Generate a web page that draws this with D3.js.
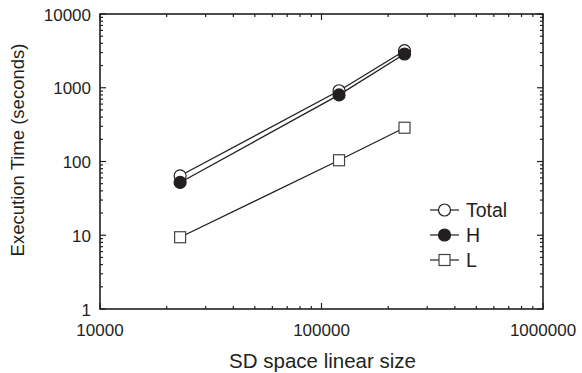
<!DOCTYPE html>
<html>
<head>
<meta charset="utf-8">
<style>
    body { margin: 0; background: #fff; }
    svg { font-family: 'Liberation Sans', Arial, sans-serif; }
    .tick-label { font-size: 17px; fill: #231f20; }
    .axis-title { fill: #231f20; }
    .legend text { font-size: 19.5px; fill: #231f20; }
</style>
</head>
<body>
<svg width="582" height="373"></svg>
<script src="https://d3js.org/d3.v7.min.js"></script>
<script>
    // values
    let sizes = [23000, 120000, 237000]
    let total = [64, 910, 3180]
    let hPart = [52, 800, 2870]
    let lPart = [9.4, 104, 287]
    let seriesNames = ["Total", "H", "L"]
    let xTicks = [10000, 100000, 1000000]
    let yTicks = [1, 10, 100, 1000, 10000]

    let ink = "#231f20"
    let margin = { top: 14, right: 39, bottom: 64, left: 100 }
    let width = 582, height = 373

    let svg = d3.select("svg")

    let x = d3.scaleLog()
        .domain([10000, 1000000])
        .range([margin.left, width - margin.right])

    let y = d3.scaleLog()
        .domain([1, 10000])
        .range([height - margin.bottom, margin.top])

    let x0 = x.range()[0], x1 = x.range()[1]
    let y0 = y.range()[0], y1 = y.range()[1]

    // minor ticks: 2..9 in every decade
    function minors(domain) {
        let out = []
        for (let d = domain[0]; d < domain[1]; d *= 10) {
            for (let k = 2; k <= 9; k++) out.push(d * k)
        }
        return out
    }

    let tickG = svg.append("g").attr("stroke", ink).attr("stroke-width", 1.2)

    // x ticks (bottom + top, pointing inward)
    minors(x.domain()).forEach(v => {
        tickG.append("line").attr("x1", x(v)).attr("x2", x(v)).attr("y1", y0).attr("y2", y0 - 3)
        tickG.append("line").attr("x1", x(v)).attr("x2", x(v)).attr("y1", y1).attr("y2", y1 + 3)
    })
    xTicks.forEach(v => {
        tickG.append("line").attr("x1", x(v)).attr("x2", x(v)).attr("y1", y0).attr("y2", y0 - 6)
        tickG.append("line").attr("x1", x(v)).attr("x2", x(v)).attr("y1", y1).attr("y2", y1 + 6)
    })
    // y ticks (left + right)
    minors(y.domain()).forEach(v => {
        tickG.append("line").attr("y1", y(v)).attr("y2", y(v)).attr("x1", x0).attr("x2", x0 + 3)
        tickG.append("line").attr("y1", y(v)).attr("y2", y(v)).attr("x1", x1).attr("x2", x1 - 3)
    })
    yTicks.forEach(v => {
        tickG.append("line").attr("y1", y(v)).attr("y2", y(v)).attr("x1", x0).attr("x2", x0 + 6)
        tickG.append("line").attr("y1", y(v)).attr("y2", y(v)).attr("x1", x1).attr("x2", x1 - 6)
    })

    // frame
    svg.append("rect")
        .attr("x", x0).attr("y", y1)
        .attr("width", x1 - x0).attr("height", y0 - y1)
        .attr("fill", "none")
        .attr("stroke", ink)
        .attr("stroke-width", 1.6)

    // tick labels
    svg.append("g").selectAll("text")
        .data(xTicks)
        .join("text")
        .attr("class", "tick-label")
        .attr("x", d => x(d))
        .attr("y", y0 + 27)
        .attr("text-anchor", "middle")
        .text(d => d)

    svg.append("g").selectAll("text")
        .data(yTicks)
        .join("text")
        .attr("class", "tick-label")
        .attr("x", x0 - 9)
        .attr("y", d => y(d) + 6.5)
        .attr("text-anchor", "end")
        .text(d => d)

    // axis titles
    svg.append("text")
        .attr("class", "axis-title")
        .style("font-size", "20.5px")
        .attr("x", (x0 + x1) / 2 + 1)
        .attr("y", 368)
        .attr("text-anchor", "middle")
        .text("SD space linear size")

    svg.append("text")
        .attr("class", "axis-title")
        .style("font-size", "18.5px")
        .attr("transform", "translate(24,150) rotate(-90)")
        .attr("text-anchor", "middle")
        .text("Execution Time (seconds)")

    let line = d3.line()
        .x((d, i) => x(sizes[i]))
        .y(d => y(d))

    let series = [
        { name: "Total", values: total, shape: "circle", fill: "#fff" },
        { name: "H", values: hPart, shape: "circle", fill: ink },
        { name: "L", values: lPart, shape: "square", fill: "#fff" }
    ]

    function marker(g, s, cx, cy) {
        if (s.shape == "circle") {
            g.append("circle")
                .attr("cx", cx).attr("cy", cy).attr("r", 6)
                .attr("fill", s.fill).attr("stroke", ink).attr("stroke-width", 1.2)
        } else {
            g.append("rect")
                .attr("x", cx - 5.5).attr("y", cy - 5.5)
                .attr("width", 11).attr("height", 11)
                .attr("fill", s.fill).attr("stroke", "#444").attr("stroke-width", 1.2)
        }
    }

    // lines first, then markers on top
    svg.append("g").selectAll("path")
        .data(series)
        .join("path")
        .attr("d", d => line(d.values))
        .attr("fill", "none")
        .attr("stroke", ink)
        .attr("stroke-width", 1.3)

    let markG = svg.append("g")
    series.forEach(s => {
        s.values.forEach((v, i) => marker(markG, s, x(sizes[i]), y(v)))
    })

    // legend
    let legend = svg.append("g").attr("class", "legend")
    series.forEach((s, i) => {
        let ly = 210 + i * 25
        legend.append("line")
            .attr("x1", 430).attr("x2", 459)
            .attr("y1", ly).attr("y2", ly)
            .attr("stroke", ink).attr("stroke-width", 1.2)
        marker(legend, s, 444.5, ly)
        legend.append("text")
            .attr("x", 466)
            .attr("y", ly + 7)
            .text(seriesNames[i])
    })
</script>
</body>
</html>
